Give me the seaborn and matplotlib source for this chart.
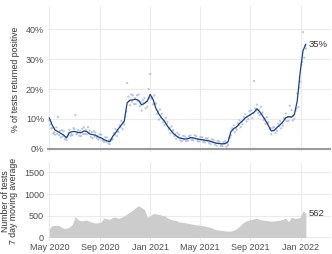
import numpy as np
import pandas as pd
import seaborn as sns
import matplotlib.pyplot as plt
import matplotlib.dates as mdates

# weekly 7-day average of share of tests positive (%), from 2020-05-01
positivity = [10.4, 8.0, 6.3, 5.8, 5.2, 4.6, 3.7, 5.5, 5.8, 5.8,
              5.5, 5.4, 6.0, 5.8, 5.0, 4.8, 4.6, 4.0, 3.7, 3.1,
              2.7, 2.4, 4.2, 5.4, 6.8, 8.0, 9.3, 15.4, 16.3, 16.4,
              16.6, 16.2, 14.7, 15.2, 16.0, 18.2, 16.5, 13.5, 11.7, 10.3,
              9.2, 7.6, 6.4, 5.2, 4.4, 3.7, 3.5, 3.3, 3.4, 3.8,
              3.7, 3.4, 3.2, 3.1, 2.9, 2.8, 2.5, 2.2, 1.9, 1.8,
              1.7, 1.8, 2.4, 5.8, 6.8, 7.4, 8.5, 9.4, 10.4, 11.0,
              11.6, 12.2, 13.4, 12.4, 11.0, 9.5, 7.8, 6.0, 6.2, 7.2,
              8.0, 9.0, 10.4, 10.8, 10.6, 11.5, 16.0, 25.5, 32.8, 35.0]

# daily readings (three sampled per week: day 0, day 3, day 5)
daily_a = [9.5, 7.0, 4.8, 10.7, 3.9, 5.9, 2.9, 6.4, 4.6, 11.3,
           6.3, 4.3, 7.2, 4.9, 6.1, 3.6, 5.5, 3.2, 4.8, 2.3,
           3.8, 1.6, 3.3, 6.6, 5.7, 9.3, 8.1, 22.0, 14.6, 17.9,
           15.0, 18.2, 12.8, 17.0, 14.1, 25.0, 14.9, 15.1, 9.8, 11.7,
           8.0, 9.1, 5.2, 6.3, 3.4, 4.8, 2.6, 4.2, 2.7, 4.5,
           2.9, 4.3, 2.5, 3.9, 2.2, 3.5, 1.6, 3.0, 1.1, 2.5,
           1.0, 2.6, 1.3, 4.6, 7.9, 6.4, 9.6, 8.2, 11.6, 9.9,
           12.9, 22.7, 14.8, 11.3, 12.2, 8.4, 9.0, 4.9, 7.3, 6.0,
           9.3, 7.7, 11.8, 9.4, 13.0, 10.0, 18.5, 22.5, 39.0, 33.5]
daily_b = [8.2, 5.1, 7.2, 4.6, 6.3, 3.3, 4.5, 4.4, 7.0, 4.9,
           4.4, 6.7, 5.0, 7.3, 4.0, 5.9, 3.7, 4.9, 2.8, 3.9,
           1.8, 3.4, 5.3, 4.3, 7.9, 6.6, 10.8, 17.5, 18.2, 15.0,
           17.9, 14.3, 16.3, 13.6, 20.0, 16.8, 17.9, 11.8, 13.2, 8.9,
           10.4, 6.5, 7.5, 4.3, 5.4, 2.9, 4.4, 2.6, 4.3, 3.0,
           4.6, 2.6, 4.0, 2.3, 3.6, 2.0, 3.2, 1.5, 2.7, 1.0,
           2.3, 0.8, 3.6, 6.9, 5.6, 8.6, 7.3, 10.6, 9.2, 12.6,
           10.3, 13.5, 12.0, 14.0, 9.7, 10.6, 6.6, 7.1, 5.3, 8.4,
           6.9, 10.3, 9.2, 14.4, 9.5, 12.8, 14.0, 28.0, 30.5]
daily_c = [6.9, 5.6, 5.0, 6.1, 4.2, 4.0, 5.2, 5.0, 6.6, 5.3,
           6.0, 5.0, 6.4, 5.4, 5.6, 4.2, 4.3, 3.5, 3.0, 2.4,
           2.9, 3.0, 4.8, 6.0, 7.2, 8.8, 12.5, 16.0, 15.8, 16.9,
           16.0, 15.6, 15.4, 15.9, 17.0, 17.2, 15.3, 12.6, 10.5, 9.6,
           8.4, 7.0, 5.8, 4.9, 4.0, 3.6, 3.2, 3.6, 3.5, 3.6,
           3.5, 3.3, 3.0, 3.0, 2.7, 2.6, 2.2, 2.0, 1.9, 1.6,
           1.8, 2.0, 3.9, 6.2, 7.0, 7.9, 9.0, 9.8, 10.8, 11.3,
           12.0, 12.8, 13.1, 11.7, 10.2, 8.6, 6.9, 6.1, 6.7, 7.6,
           8.5, 9.8, 10.6, 10.7, 11.0, 13.5, 20.5, 29.0, 34.5]

# number of tests, 7 day moving average
tests = [200, 270, 280, 280, 250, 210, 215, 240, 300, 480,
         410, 380, 390, 400, 370, 350, 330, 340, 360, 450,
         430, 420, 460, 470, 440, 460, 500, 540, 590, 630,
         690, 730, 690, 640, 460, 500, 550, 540, 530, 510,
         500, 450, 420, 400, 390, 360, 350, 340, 325, 315,
         300, 290, 285, 275, 260, 245, 230, 200, 180, 168,
         160, 150, 145, 150, 170, 205, 260, 330, 370, 395,
         410, 430, 440, 420, 400, 395, 385, 375, 380, 390,
         400, 420, 440, 360, 470, 440, 445, 460, 610, 562]

tick_dates = ["2020-05-01", "2020-09-01", "2021-01-01",
              "2021-05-01", "2021-09-01", "2022-01-01"]
tick_labels = ["May 2020", "Sep 2020", "Jan 2021", "May 2021", "Sep 2021", "Jan 2022"]

weeks = pd.date_range("2020-05-01", periods=len(positivity), freq="7D")
df = pd.DataFrame({"date": weeks, "positivity": positivity, "tests": tests})
pts = pd.concat([
    pd.DataFrame({"date": weeks, "value": daily_a}),
    pd.DataFrame({"date": weeks[:len(daily_b)] + pd.Timedelta(days=3), "value": daily_b}),
    pd.DataFrame({"date": weeks[:len(daily_c)] + pd.Timedelta(days=5), "value": daily_c}),
])

sns.set_theme(style="whitegrid")
plt.rcParams["font.family"] = ["Liberation Sans", "DejaVu Sans"]

grey = "#4d4d4d"
fig = plt.figure(figsize=(3.32, 2.54), dpi=100)
ax1 = fig.add_axes([0.141, 0.403, 0.856, 0.573])
ax2 = fig.add_axes([0.141, 0.053, 0.856, 0.309])

xmin = pd.Timestamp("2020-05-01") - pd.Timedelta(days=6)
xmax = pd.Timestamp("2020-05-01") + pd.Timedelta(days=684)
ticks = pd.to_datetime(tick_dates)

# top panel: positivity
sns.scatterplot(data=pts, x="date", y="value", ax=ax1, s=2.5, color="#9fb1dc",
                alpha=0.75, edgecolor="none", zorder=2)
sns.lineplot(data=df, x="date", y="positivity", ax=ax1, color="#1d3f86", lw=0.9, zorder=3)
ax1.axhline(0, color="#9a9a9a", lw=1.5, zorder=1)
ax1.annotate(f"{positivity[-1]:.0f}%", (weeks[-1], positivity[-1]), xytext=(2, 0),
             textcoords="offset points", va="center", ha="left", fontsize=6.8, color="#333333")
ax1.set_ylim(-0.9, 47.7)
ax1.set_yticks([0, 10, 20, 30, 40])
ax1.set_yticklabels([f"{v}%" for v in [0, 10, 20, 30, 40]])
ax1.set_ylabel("% of tests returned positive", fontsize=6.3, color="#333333", labelpad=4)
ax1.set_xlabel("")
ax1.set_xticks(ticks)
ax1.set_xticklabels([])

# bottom panel: number of tests
ax2.fill_between(df["date"], 0, df["tests"], color="#cccccc", lw=0, zorder=2)
ax2.annotate(f"{tests[-1]}", (weeks[-1], tests[-1]), xytext=(2, 0),
             textcoords="offset points", va="center", ha="left", fontsize=6.8, color="#333333")
ax2.set_ylim(-70, 1735)
ax2.set_yticks([0, 500, 1000, 1500])
ax2.set_ylabel("Number of tests\n7 day moving average", fontsize=6.3, color="#333333",
               labelpad=4, linespacing=0.95)
ax2.set_xticks(ticks)
ax2.set_xticklabels(tick_labels)

for ax in (ax1, ax2):
    ax.set_xlim(xmin, xmax)
    for s in ax.spines.values():
        s.set_visible(False)
    ax.grid(True, color="#ebebeb", lw=0.8)
    ax.set_axisbelow(True)
    ax.tick_params(length=0, labelsize=6.5, colors=grey, pad=2)

fig.savefig("out.png", dpi=100)
